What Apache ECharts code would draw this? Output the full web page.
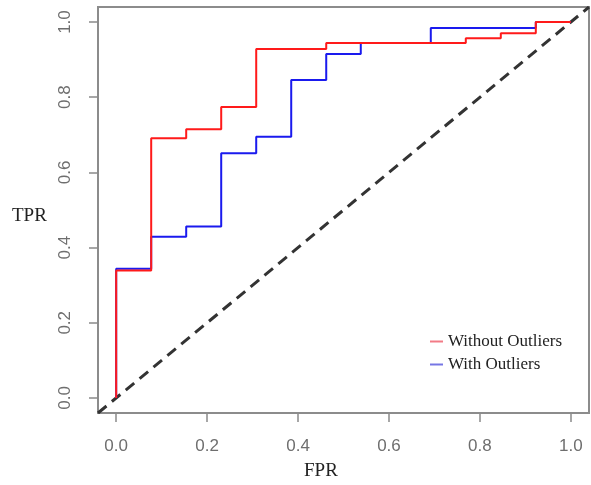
<!DOCTYPE html>
<html>
<head>
<meta charset="utf-8">
<script src="https://cdn.jsdelivr.net/npm/echarts@6/dist/echarts.min.js"></script>
<style>
html,body{margin:0;padding:0;background:#fff;}
#chart{width:591px;height:485px;}
</style>
</head>
<body>
<div id="chart"></div>
<script>
// ---- data ----
const tickValues = [0, 0.2, 0.4, 0.6, 0.8, 1.0];
const tickLabels = ['0.0', '0.2', '0.4', '0.6', '0.8', '1.0'];

const seriesNames = ['Without Outliers', 'With Outliers'];

// ROC points (FPR, TPR) - Without Outliers
const fprWithout = [0, 0, 0.077, 0.154, 0.231, 0.308, 0.462, 0.769, 0.846, 0.923, 1.0];
const tprWithout = [0, 0.339, 0.691, 0.715, 0.774, 0.928, 0.944, 0.957, 0.970, 1.0, 1.0];

// ROC points (FPR, TPR) - With Outliers
const fprWith = [0, 0, 0.077, 0.154, 0.231, 0.308, 0.385, 0.462, 0.538, 0.692, 0.923, 1.0];
const tprWith = [0, 0.344, 0.429, 0.456, 0.651, 0.695, 0.846, 0.915, 0.944, 0.984, 1.0, 1.0];

// reference diagonal
const diagX = [-0.04, 1.04];
const diagY = [-0.04, 1.04];

const zip = (xs, ys) => xs.map((x, i) => [x, ys[i]]);

const chart = echarts.init(document.getElementById('chart'), null, {renderer: 'canvas'});

const tickColor = '#8a8a8a';
const labelColor = '#6e6e6e';
const fmt = v => tickLabels[tickValues.findIndex(t => Math.abs(t - v) < 1e-9)] ?? v.toFixed(1);

chart.setOption({
  animation: false,
  backgroundColor: '#ffffff',
  grid: {
    left: 98, top: 7, width: 491, height: 406,
    show: true, borderColor: '#8c8c8c', borderWidth: 2, backgroundColor: 'transparent'
  },
  xAxis: {
    type: 'value', min: -0.04, max: 1.04,
    axisLine: {show: false, onZero: false},
    splitLine: {show: false},
    axisTick: {show: true, inside: false, length: 9, customValues: tickValues,
      lineStyle: {color: tickColor, width: 1.5}},
    axisLabel: {show: true, customValues: tickValues, margin: 25, formatter: fmt,
      fontFamily: 'Liberation Sans', fontSize: 17, color: labelColor}
  },
  yAxis: {
    type: 'value', min: -0.04, max: 1.04,
    axisLine: {show: false, onZero: false},
    splitLine: {show: false},
    axisTick: {show: true, inside: false, length: 9, customValues: tickValues,
      lineStyle: {color: tickColor, width: 1.5}},
    axisLabel: {show: true, customValues: tickValues, margin: 24, rotate: 90, formatter: fmt,
      fontFamily: 'Liberation Sans', fontSize: 17, color: labelColor}
  },
  legend: {
    orient: 'vertical', left: 430, top: 333, padding: 0, itemGap: 6,
    icon: 'rect', itemWidth: 13, itemHeight: 2,
    textStyle: {fontFamily: 'Liberation Serif', fontSize: 17, color: '#222'},
    data: [
      {name: seriesNames[0], itemStyle: {color: '#f27b86'}},
      {name: seriesNames[1], itemStyle: {color: '#7676e4'}}
    ]
  },
  graphic: [
    {type: 'text', left: 12, top: 207, style: {text: 'TPR', font: '19px "Liberation Serif"', fill: '#222'}},
    {type: 'text', left: 304, top: 462, style: {text: 'FPR', font: '19px "Liberation Serif"', fill: '#222'}}
  ],
  series: [
    {
      name: 'diag', type: 'line', data: zip(diagX, diagY), symbol: 'none', silent: true,
      lineStyle: {color: '#333333', width: 3, type: [11, 7]}, clip: true, z: 1
    },
    {
      name: seriesNames[1], type: 'line', step: 'end', data: zip(fprWith, tprWith),
      symbol: 'none', lineStyle: {color: '#1a1aee', width: 2}, itemStyle: {color: '#1a1aee'}, z: 2
    },
    {
      name: seriesNames[0], type: 'line', step: 'end', data: zip(fprWithout, tprWithout),
      symbol: 'none', lineStyle: {color: '#ff1a1a', width: 2}, itemStyle: {color: '#ff1a1a'}, z: 3
    }
  ]
});
</script>
</body>
</html>
